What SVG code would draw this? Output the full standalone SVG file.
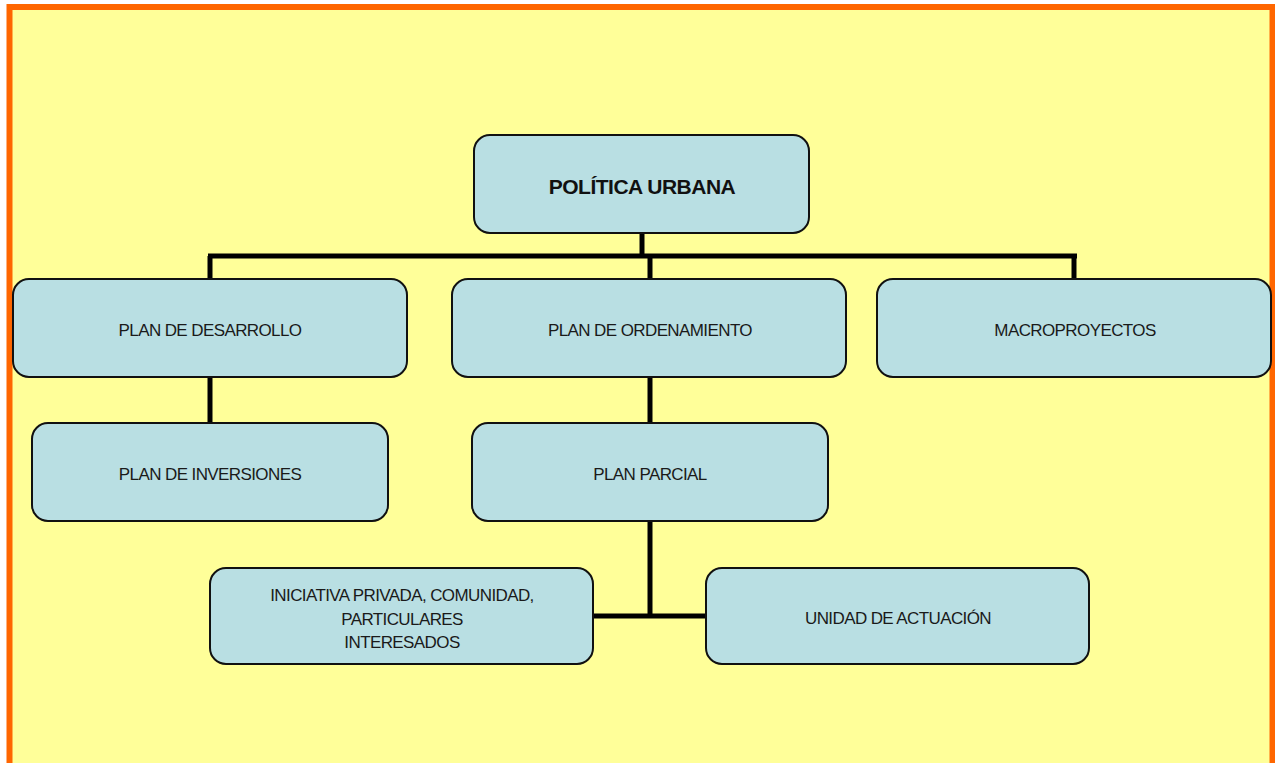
<svg xmlns="http://www.w3.org/2000/svg" width="1275" height="763" viewBox="0 0 1275 763">
<style>
.box{fill:#B9DFE3;stroke:#111;stroke-width:2}
.t{font-family:"Liberation Sans",Arial,sans-serif;font-size:17px;fill:#1a1a1a;text-anchor:middle;letter-spacing:-0.6px}
.tb{font-family:"Liberation Sans",Arial,sans-serif;font-size:21px;font-weight:bold;fill:#111;text-anchor:middle;letter-spacing:-0.5px}
.c{stroke:#000;stroke-width:5;fill:none}
</style>
<rect x="0" y="0" width="1275" height="763" fill="#fff"/>
<rect x="9.5" y="7" width="1263" height="770" fill="#FFFF99" stroke="#FF6600" stroke-width="6"/>
<g id="connectors">
<line class="c" x1="642" y1="233" x2="642" y2="256"/>
<line class="c" x1="208" y1="256" x2="1077" y2="256"/>
<line class="c" x1="210" y1="256" x2="210" y2="279"/>
<line class="c" x1="650" y1="256" x2="650" y2="279" stroke-width="4"/>
<line class="c" x1="1074" y1="256" x2="1074" y2="279"/>
<line class="c" x1="210" y1="377" x2="210" y2="423"/>
<line class="c" x1="650" y1="377" x2="650" y2="423"/>
<line class="c" x1="650" y1="521" x2="650" y2="616"/>
<line class="c" x1="593" y1="616" x2="706" y2="616"/>
</g>
<g id="n-politica">
<rect class="box" x="474" y="135" width="335" height="98" rx="16"/>
<text class="tb" x="642" y="194">POLÍTICA URBANA</text>
</g>
<g id="n-desarrollo">
<rect class="box" x="13" y="279" width="394" height="98" rx="16"/>
<text class="t" x="210" y="336">PLAN DE DESARROLLO</text>
</g>
<g id="n-ordenamiento">
<rect class="box" x="452" y="279" width="394" height="98" rx="16"/>
<text class="t" x="650" y="336">PLAN DE ORDENAMIENTO</text>
</g>
<g id="n-macro">
<rect class="box" x="877" y="279" width="394" height="98" rx="16"/>
<text class="t" x="1075" y="336">MACROPROYECTOS</text>
</g>
<g id="n-inversiones">
<rect class="box" x="32" y="423" width="356" height="98" rx="16"/>
<text class="t" x="210" y="480">PLAN DE INVERSIONES</text>
</g>
<g id="n-parcial">
<rect class="box" x="472" y="423" width="356" height="98" rx="16"/>
<text class="t" x="650" y="480">PLAN PARCIAL</text>
</g>
<g id="n-iniciativa">
<rect class="box" x="210" y="568" width="383" height="96" rx="16"/>
<text class="t" x="402" y="601">INICIATIVA PRIVADA, COMUNIDAD,</text>
<text class="t" x="402" y="625">PARTICULARES</text>
<text class="t" x="402" y="648">INTERESADOS</text>
</g>
<g id="n-unidad">
<rect class="box" x="706" y="568" width="383" height="96" rx="16"/>
<text class="t" x="898" y="624">UNIDAD DE ACTUACIÓN</text>
</g>
</svg>
